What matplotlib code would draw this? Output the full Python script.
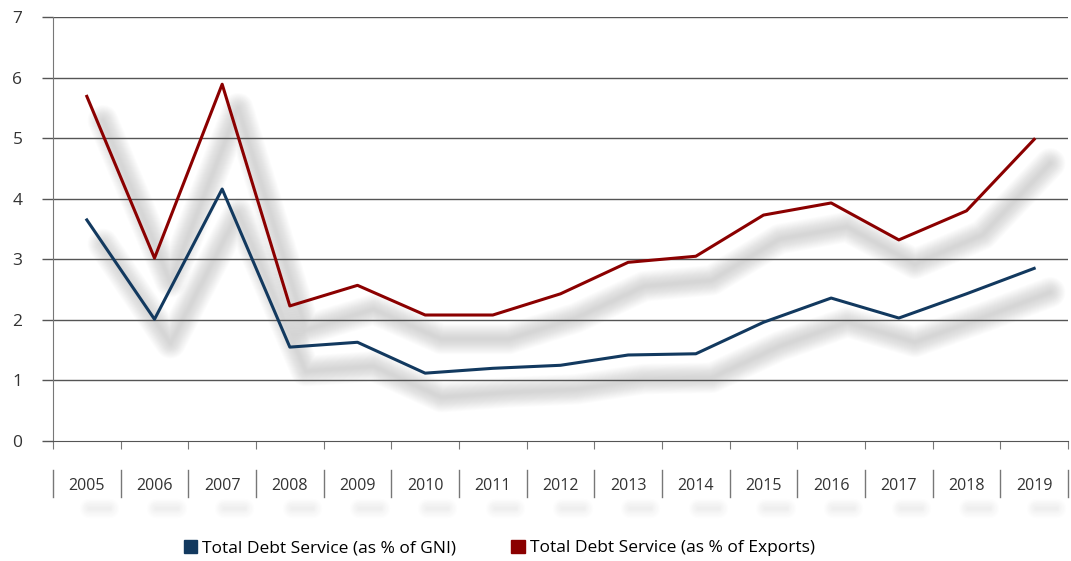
import numpy as np
import matplotlib
matplotlib.use('Agg')
from matplotlib import pyplot as plt
from matplotlib import transforms
from matplotlib.patches import Patch

years = ['2005', '2006', '2007', '2008', '2009', '2010', '2011', '2012',
         '2013', '2014', '2015', '2016', '2017', '2018', '2019']
debt_gni = [3.65, 2.01, 4.16, 1.55, 1.63, 1.12, 1.20, 1.25, 1.42, 1.44,
            1.96, 2.36, 2.03, 2.43, 2.85]
debt_exports = [5.69, 3.02, 5.89, 2.23, 2.57, 2.08, 2.08, 2.43, 2.95, 3.05,
                3.73, 3.93, 3.32, 3.80, 4.98]

blue = '#12395f'
red = '#8b0000'
grid_col = '#555555'

plt.rcParams['font.family'] = ['Open Sans', 'DejaVu Sans']

fig = plt.figure(figsize=(10.71, 5.61), dpi=100)
ax = fig.add_axes([53/1071, 1 - 441/561, 1015/1071, 424/561])

x = np.arange(len(years))

# soft drop shadow under each line
shadow = transforms.offset_copy(ax.transData, fig=fig, x=16, y=-24, units='dots')
for vals in (debt_gni, debt_exports):
    for lw in np.linspace(22, 2, 16):
        ax.plot(x, vals, color='#909090', lw=lw, alpha=0.022,
                solid_capstyle='round', solid_joinstyle='round',
                transform=shadow, zorder=1)

ax.plot(x, debt_gni, color=blue, lw=2.2, zorder=3)
ax.plot(x, debt_exports, color=red, lw=2.2, zorder=3)

ax.set_xlim(-0.5, len(years) - 0.5)
ax.set_ylim(0, 7)
ax.set_yticks(range(8))
ax.tick_params(axis='y', length=8, width=1, color=grid_col, labelsize=12.5,
               labelcolor='#333333', pad=14)
for y in range(1, 8):
    ax.axhline(y, color=grid_col, lw=1, zorder=2)
for s in ('top', 'right'):
    ax.spines[s].set_visible(False)
ax.spines['left'].set_color('#777777')
ax.spines['bottom'].set_color(grid_col)

# category boundaries
ax.set_xticks(np.arange(-0.5, len(years), 1.0))
ax.set_xticklabels([])
ax.tick_params(axis='x', length=6, color='#777777')

# second row: separators and year labels with faint shadow
trans = transforms.blended_transform_factory(ax.transData, ax.transAxes)
for b in np.arange(-0.5, len(years), 1.0):
    ax.plot([b, b], [-0.068, -0.132], color='#777777', lw=1,
            transform=trans, clip_on=False)
lab_shadow = transforms.offset_copy(trans, fig=fig, x=12, y=-22, units='dots')
for i, yr in enumerate(years):
    ax.text(i, -0.105, yr, transform=trans, ha='center', va='center',
            fontsize=11.5, color='#333333')
    for lw in np.linspace(14, 2, 8):
        ax.plot([i - 0.15, i + 0.15], [-0.105, -0.105], color='#a8a8a8',
                lw=lw, alpha=0.018, solid_capstyle='round',
                transform=lab_shadow, clip_on=False)

handles = [Patch(color=blue, label='Total Debt Service (as % of GNI)'),
           Patch(color=red, label='Total Debt Service (as % of Exports)')]
fig.legend(handles=handles, loc='center', bbox_to_anchor=(0.466, 1 - 548/561),
           ncol=2, frameon=False, fontsize=12.5, handlelength=0.8,
           handleheight=0.8, handletextpad=0.25, columnspacing=3.2)

fig.savefig('out.png', dpi=100)
